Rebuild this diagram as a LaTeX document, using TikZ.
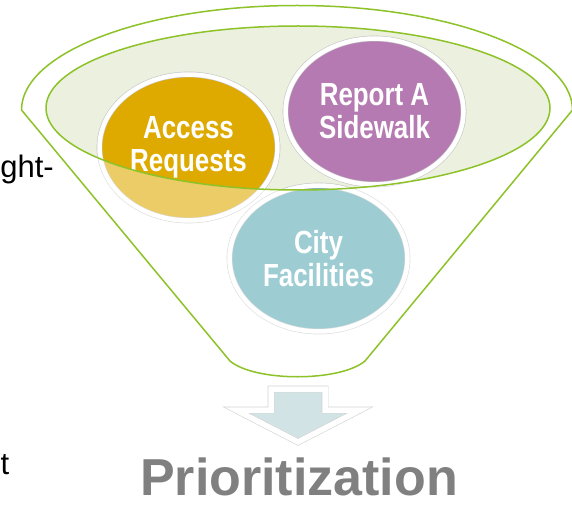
\documentclass[tikz,border=0pt]{standalone}
\usepackage{fontspec}
\setmainfont{Liberation Sans}
\newfontfamily\bubblefont[FakeStretch=0.81]{Liberation Sans}
\usetikzlibrary{shapes.geometric,shadows}

\definecolor{funnelG}{RGB}{141,194,40}
\definecolor{rimFill}{RGB}{235,241,222}
\definecolor{accessC}{RGB}{222,170,0}
\definecolor{reportC}{RGB}{181,122,178}
\definecolor{cityC}{RGB}{92,172,183}
\definecolor{arrowC}{RGB}{210,227,230}
\definecolor{prioC}{RGB}{128,128,128}

\tikzstyle{bS}=[ellipse,minimum width=178pt,minimum height=146pt,inner sep=0pt,draw=gray!45,line width=0.6pt,double=white,double distance=4.5pt,text=white,font=\bubblefont\bfseries\fontsize{32}{33}\selectfont,align=center,drop shadow={shadow xshift=0pt,shadow yshift=-2.5pt,opacity=0.25,fill=gray}]
\tikzstyle{fS}=[draw=funnelG,line width=1.5pt,line join=round]
\tikzstyle{aS}=[fill=arrowC,draw=gray!35,line width=0.6pt,double=white,double distance=5.5pt,line join=miter,drop shadow={shadow xshift=0pt,shadow yshift=-3pt,opacity=0.35,fill=gray}]
\tikzstyle{tS}=[inner sep=0pt,text=prioC,font=\bfseries\fontsize{52}{60}\selectfont]
\tikzstyle{sideS}=[inner sep=0pt,text=black,font=\fontsize{31}{36}\selectfont]

\begin{document}
\begin{tikzpicture}[x=1pt,y=-1pt]%image pixels, y down
                \useasboundingbox (0,0) rectangle (572,505);
                \fill[rimFill] (298,108) ellipse [x radius=252,y radius=82];
                \draw (188.5,147.5) node[bS,fill=accessC] (access) {Access\\Requests};
                \draw (374.5,111.5) node[bS,fill=reportC] (report) {Report A\\Sidewalk};
                \draw (318.5,258.5) node[bS,fill=cityC] (city) {City\\Facilities};
                \fill[white,opacity=0.4,even odd rule]
                    (21.5,110) arc[start angle=180,end angle=360,x radius=275.5,y radius=104.5]
                    -- (365,361) .. controls (340,382) and (255,382) .. (230,361) -- cycle
                    (298,108) ellipse [x radius=252,y radius=82];
                \draw[fS] (21.5,110) arc[start angle=180,end angle=360,x radius=275.5,y radius=104.5]
                    -- (365,361) .. controls (340,382) and (255,382) .. (230,361) -- cycle;
                \draw[fS] (298,108) ellipse [x radius=252,y radius=82];
                \draw[aS] (271,389) -- (325,389) -- (325,410) -- (360,410) -- (298,442)
                    -- (236,410) -- (271,410) -- cycle;
                \draw (299,495) node[tS,anchor=base] (prio) {Prioritization};
                \draw (54,177) node[sideS,anchor=base east] (fragA) {ght-};
                \draw (0.5,474) node[sideS,anchor=base west] (fragB) {t};
        \end{tikzpicture}
\end{document}
